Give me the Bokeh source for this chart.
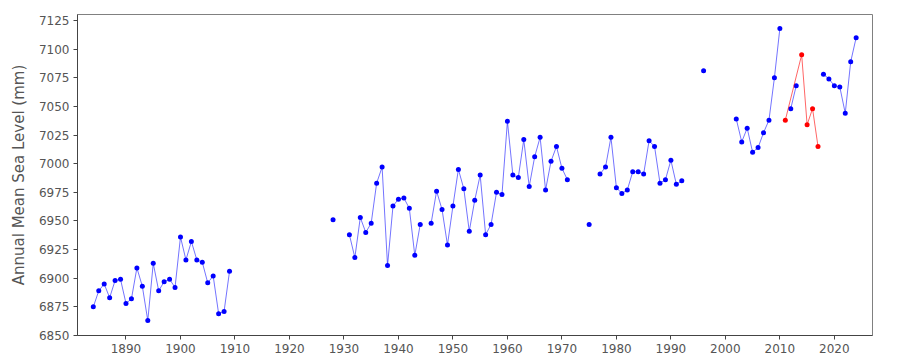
import math
from bokeh.plotting import figure
from bokeh.models import Range1d, FixedTicker
from bokeh.embed import file_html
from bokeh.resources import INLINE

NAN = float("nan")

blue_years = [
    1884, 1885, 1886, 1887, 1888, 1889, 1890, 1891, 1892, 1893, 1894, 1895, 1896,
    1897, 1898, 1899, 1900, 1901, 1902, 1903, 1904, 1905, 1906, 1907, 1908, 1909,
    1928, 1931, 1932, 1933, 1934, 1935, 1936, 1937, 1938, 1939, 1940, 1941, 1942,
    1943, 1944,
    1946, 1947, 1948, 1949, 1950, 1951, 1952, 1953, 1954, 1955, 1956, 1957, 1958,
    1959, 1960, 1961, 1962, 1963, 1964, 1965, 1966, 1967, 1968, 1969, 1970, 1971,
    1975,
    1977, 1978, 1979, 1980, 1981, 1982, 1983, 1984, 1985, 1986, 1987, 1988, 1989,
    1990, 1991, 1992,
    1996,
    2002, 2003, 2004, 2005, 2006, 2007, 2008, 2009, 2010,
    2012, 2013,
    2018, 2019, 2020, 2021, 2022, 2023, 2024,
]
blue_values = [
    6875, 6889, 6895, 6883, 6898, 6899, 6878, 6882, 6909, 6893, 6863, 6913, 6889,
    6897, 6899, 6892, 6936, 6916, 6932, 6916, 6914, 6896, 6902, 6869, 6871, 6906,
    6951, 6938, 6918, 6953, 6940, 6948, 6983, 6997, 6911, 6963, 6969, 6970, 6961,
    6920, 6947,
    6948, 6976, 6960, 6929, 6963, 6995, 6978, 6941, 6968, 6990, 6938, 6947, 6975,
    6973, 7037, 6990, 6988, 7021, 6980, 7006, 7023, 6977, 7002, 7015, 6996, 6986,
    6947,
    6991, 6997, 7023, 6979, 6974, 6977, 6993, 6993, 6991, 7020, 7015, 6983, 6986,
    7003, 6982, 6985,
    7081,
    7039, 7019, 7031, 7010, 7014, 7027, 7038, 7075, 7118,
    7048, 7068,
    7078, 7074, 7068, 7067, 7044, 7089, 7110,
]

red_years = [2011, 2014, 2015, 2016, 2017]
red_values = [7038, 7095, 7034, 7048, 7015]

x_ticks = [1890, 1900, 1910, 1920, 1930, 1940, 1950, 1960, 1970, 1980, 1990, 2000, 2010, 2020]
y_ticks = [6850, 6875, 6900, 6925, 6950, 6975, 7000, 7025, 7050, 7075, 7100, 7125]
y_label = "Annual Mean Sea Level (mm)"

# Break the blue line wherever a year is missing
line_x, line_y = [], []
prev = None
for yr, v in zip(blue_years, blue_values):
    if prev is not None and yr - prev > 1:
        line_x.append(NAN)
        line_y.append(NAN)
    line_x.append(yr)
    line_y.append(v)
    prev = yr

p = figure(width=900, height=360, output_backend="svg", toolbar_location=None,
           x_range=Range1d(1881.1, 2027.0), y_range=Range1d(6850, 7130.2),
           min_border_left=77, min_border_right=28, min_border_top=14, min_border_bottom=25)

p.line(line_x, line_y, line_color="#0000ff", line_alpha=0.55, line_width=1)
p.scatter(blue_years, blue_values, size=5, fill_color="#0000ff", line_color=None)
p.line(red_years, red_values, line_color="#ff0000", line_alpha=0.6, line_width=1)
p.scatter(red_years, red_values, size=5, fill_color="#ff0000", line_color=None)

p.xgrid.visible = False
p.ygrid.visible = False
p.outline_line_color = "#808080"
p.outline_line_alpha = 1
p.background_fill_color = "white"
p.border_fill_color = "white"

p.xaxis.ticker = FixedTicker(ticks=x_ticks)
p.yaxis.ticker = FixedTicker(ticks=y_ticks)
p.yaxis.axis_label = y_label

for ax in (p.xaxis[0], p.yaxis[0]):
    ax.axis_line_color = "#444444"
    ax.major_tick_line_color = "#444444"
    ax.major_tick_out = 4
    ax.major_tick_in = 0
    ax.minor_tick_line_color = None
    ax.major_label_text_font = "DejaVu Sans"
    ax.major_label_text_font_size = "12px"
    ax.major_label_text_color = "#555555"
    ax.axis_label_text_font = "DejaVu Sans"
    ax.axis_label_text_font_size = "15px"
    ax.axis_label_text_font_style = "normal"
    ax.axis_label_text_color = "#555555"

p.xaxis.major_label_standoff = 4
p.yaxis.major_label_standoff = 4
p.yaxis.axis_label_standoff = 8

open("out.html", "w").write(file_html(p, INLINE))
